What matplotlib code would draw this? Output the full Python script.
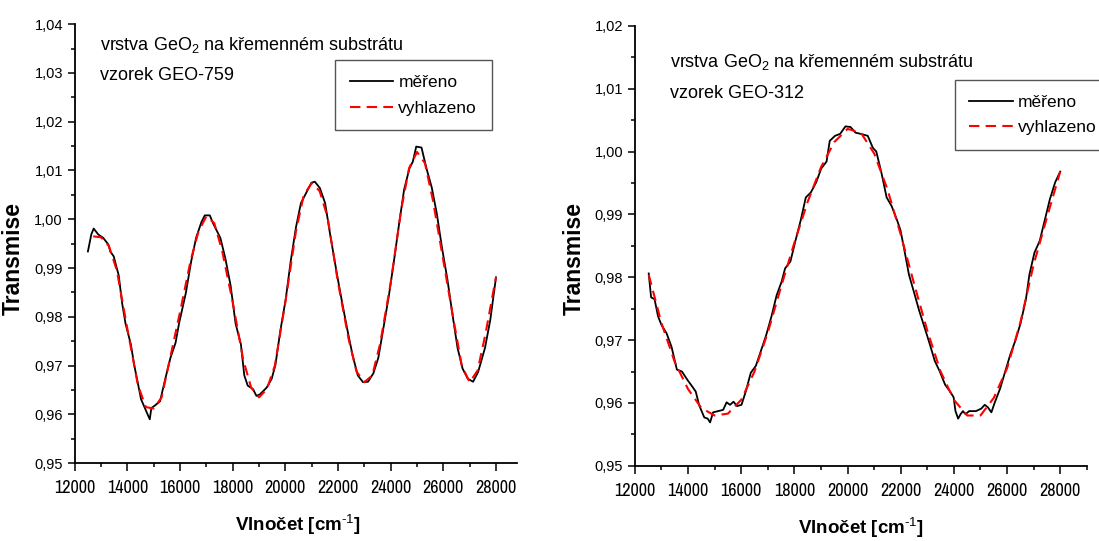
import matplotlib.pyplot as plt
from matplotlib.ticker import MultipleLocator, FuncFormatter
from matplotlib import font_manager

# vzorek GEO-759 (levy graf)
x_759 = [12500, 12630, 12720, 12890, 13080, 13280, 13350, 13480, 13670, 13800,
         13930, 14130, 14260, 14390, 14520, 14720, 14850, 14910, 15040, 15240,
         15440, 15630, 15830, 15960, 16220, 16420, 16610, 16810, 16940, 17130,
         17260, 17530, 17720, 17920, 18110, 18310, 18440, 18570, 18770, 18900,
         19030, 19160, 19290, 19480, 19620, 19810, 20010, 20200, 20400, 20590,
         20790, 20990, 21120, 21310, 21510, 21700, 21970, 22160, 22360, 22550,
         22750, 22950, 23140, 23340, 23530, 23730, 23930, 24120, 24320, 24510,
         24710, 24840, 24970, 25170, 25360, 25560, 25750, 25950, 26150, 26340,
         26540, 26730, 26930, 27130, 27320, 27580, 27780, 28000]
y_759 = [0.9934, 0.9969, 0.9981, 0.9969, 0.9962, 0.9948, 0.9934, 0.9924, 0.9885, 0.9828,
         0.9786, 0.9744, 0.9701, 0.9666, 0.9631, 0.9606, 0.9590, 0.9613, 0.9618, 0.9627,
         0.9673, 0.9715, 0.9747, 0.9786, 0.9849, 0.9913, 0.9962, 0.9994, 1.0008, 1.0008,
         0.9991, 0.9962, 0.9920, 0.9864, 0.9786, 0.9744, 0.9680, 0.9659, 0.9652, 0.9638,
         0.9641, 0.9648, 0.9655, 0.9673, 0.9701, 0.9772, 0.9835, 0.9913, 0.9983, 1.0033,
         1.0054, 1.0075, 1.0077, 1.0064, 1.0033, 0.9969, 0.9884, 0.9828, 0.9772, 0.9722,
         0.9680, 0.9666, 0.9667, 0.9684, 0.9716, 0.9779, 0.9843, 0.9913, 0.9991, 1.0061,
         1.0104, 1.0118, 1.0149, 1.0147, 1.0104, 1.0065, 1.0012, 0.9941, 0.9878, 0.9807,
         0.9736, 0.9694, 0.9673, 0.9667, 0.9687, 0.9736, 0.9793, 0.9881]
xs_759 = [12700, 13000, 13300, 13600, 14000, 14400, 14700, 15000, 15300, 15600,
          16000, 16400, 16700, 17000, 17300, 17600, 18000, 18400, 18700, 19000,
          19300, 19600, 20000, 20400, 20700, 21000, 21300, 21600, 22000, 22400,
          22700, 23000, 23300, 23600, 24000, 24400, 24700, 25000, 25300, 25600,
          26000, 26400, 26700, 27000, 27300, 27600, 28000]
ys_759 = [0.9965, 0.9963, 0.9945, 0.9895, 0.9775, 0.9660, 0.9615, 0.9612, 0.9635, 0.9710,
          0.9810, 0.9915, 0.9975, 1.0006, 0.9992, 0.9935, 0.9830, 0.9712, 0.9655, 0.9635,
          0.9652, 0.9700, 0.9830, 0.9975, 1.0050, 1.0074, 1.0058, 1.0005, 0.9870, 0.9755,
          0.9688, 0.9666, 0.9680, 0.9745, 0.9870, 1.0020, 1.0105, 1.0138, 1.0115, 1.0040,
          0.9915, 0.9790, 0.9700, 0.9666, 0.9690, 0.9765, 0.9882]

# vzorek GEO-312 (pravy graf)
x_312 = [12520, 12610, 12740, 12870, 13000, 13190, 13380, 13580, 13770, 13970,
         14160, 14290, 14420, 14610, 14740, 14830, 14940, 15130, 15320, 15450,
         15580, 15710, 15840, 16010, 16170, 16360, 16550, 16750, 16940, 17140,
         17330, 17520, 17650, 17850, 18040, 18240, 18430, 18620, 18820, 19010,
         19210, 19330, 19530, 19720, 19920, 20110, 20300, 20500, 20760, 20950,
         21080, 21270, 21470, 21660, 21860, 21990, 22120, 22310, 22500, 22700,
         22890, 23090, 23280, 23470, 23670, 23860, 23990, 24060, 24160, 24250,
         24340, 24440, 24570, 24830, 25030, 25160, 25280, 25410, 25540, 25740,
         25930, 26130, 26320, 26510, 26710, 26840, 27030, 27230, 27420, 27610,
         27810, 28000]
y_312 = [0.9806, 0.9768, 0.9765, 0.9738, 0.9724, 0.9711, 0.9689, 0.9653, 0.9650, 0.9637,
         0.9626, 0.9618, 0.9596, 0.9577, 0.9575, 0.9569, 0.9585, 0.9587, 0.9589, 0.9601,
         0.9597, 0.9602, 0.9595, 0.9597, 0.9618, 0.9648, 0.9659, 0.9684, 0.9708, 0.9738,
         0.9771, 0.9793, 0.9814, 0.9825, 0.9858, 0.9891, 0.9927, 0.9935, 0.9951, 0.9973,
         0.9984, 1.0017, 1.0025, 1.0028, 1.0040, 1.0039, 1.0030, 1.0028, 1.0025, 1.0006,
         1.0000, 0.9967, 0.9927, 0.9913, 0.9891, 0.9875, 0.9847, 0.9804, 0.9776, 0.9746,
         0.9721, 0.9694, 0.9667, 0.9650, 0.9629, 0.9618, 0.9609, 0.9587, 0.9575, 0.9582,
         0.9587, 0.9582, 0.9587, 0.9587, 0.9591, 0.9597, 0.9593, 0.9585, 0.9601, 0.9623,
         0.9650, 0.9678, 0.9700, 0.9727, 0.9765, 0.9804, 0.9839, 0.9858, 0.9891, 0.9924,
         0.9951, 0.9968]
xs_312 = [12520, 13000, 13500, 14000, 14500, 15000, 15500, 16000, 16500, 17000,
          17500, 18000, 18500, 19000, 19500, 20000, 20500, 21000, 21500, 22000,
          22500, 23000, 23500, 24000, 24500, 25000, 25500, 26000, 26500, 27000,
          27500, 28000]
ys_312 = [0.9804, 0.9727, 0.9665, 0.9622, 0.9592, 0.9580, 0.9583, 0.9605, 0.9650, 0.9712,
          0.9785, 0.9855, 0.9920, 0.9975, 1.0015, 1.0036, 1.0030, 0.9997, 0.9940, 0.9868,
          0.9790, 0.9715, 0.9650, 0.9605, 0.9580, 0.9580, 0.9608, 0.9655, 0.9728, 0.9820,
          0.9895, 0.9968]

plt.rcParams['font.family'] = 'Liberation Sans'
plt.rcParams['mathtext.fontset'] = 'custom'
plt.rcParams['mathtext.rm'] = 'Liberation Sans'
plt.rcParams['mathtext.bf'] = 'Liberation Sans:bold'

# uzky font pro popisky osy x, pokud je k dispozici
names = set(f.name for f in font_manager.fontManager.ttflist)
narrow = None
for cand in ['Liberation Sans Narrow', 'Arial Narrow', 'Archivo Narrow', 'PT Sans Narrow',
             'Roboto Condensed']:
    if cand in names:
        narrow = cand
        break

fig = plt.figure(figsize=(10.99, 5.41), dpi=100)
ax1 = fig.add_axes([0.068, 0.1438, 0.4025, 0.8116])
ax2 = fig.add_axes([0.5777, 0.139, 0.4112, 0.8133])

comma = FuncFormatter(lambda v, p: f"{v:.2f}".replace('.', ','))


def style(ax, ymax, xmax, ylab_x, ylab_y, xlab_x, xlab_y):
    ax.spines['top'].set_visible(False)
    ax.spines['right'].set_visible(False)
    ax.spines['left'].set_linewidth(1.3)
    ax.spines['bottom'].set_linewidth(1.3)
    ax.set_ylim(0.95, ymax)
    ax.set_xlim(12000, xmax)
    ax.xaxis.set_major_locator(MultipleLocator(2000))
    ax.xaxis.set_minor_locator(MultipleLocator(1000))
    ax.yaxis.set_major_locator(MultipleLocator(0.01))
    ax.yaxis.set_minor_locator(MultipleLocator(0.005))
    ax.yaxis.set_major_formatter(comma)
    ax.tick_params(axis='y', which='major', length=5, width=1.1, labelsize=10.5, pad=3.5)
    ax.tick_params(axis='x', which='major', length=5.8, width=1.1, labelsize=10.5, pad=6.5)
    ax.tick_params(which='minor', length=3, width=1.1)
    if narrow:
        for t in ax.get_xticklabels():
            t.set_family(narrow)
            t.set_fontsize(13)
    ax.set_xlabel('Vlnočet [cm$^{\\text{-}1}$]', fontsize=13.5, fontweight='bold', va='baseline')
    ax.xaxis.set_label_coords(xlab_x, xlab_y)
    ax.set_ylabel('Transmise', fontsize=16.5, fontweight='bold')
    ax.yaxis.set_label_coords(ylab_x, ylab_y)


leg_kw = dict(loc='upper left', fontsize=12.5, fancybox=False, edgecolor='#555555',
              framealpha=1, handlelength=2.5, handletextpad=0.3, borderpad=0.85,
              labelspacing=0.6, borderaxespad=0)

ax1.plot(x_759, y_759, color='black', lw=1.3, label='měřeno')
ax1.plot(xs_759, ys_759, color='red', lw=1.5, ls=(0, (5, 3)), label='vyhlazeno')
style(ax1, 1.04, 28800, -0.112, 0.467, 0.505, -0.154)
ax1.text(0.057, 0.941, 'vrstva GeO$_2$ na křemenném substrátu', transform=ax1.transAxes,
         fontsize=13, va='baseline')
ax1.text(0.057, 0.873, 'vzorek GEO-759', transform=ax1.transAxes, fontsize=13, va='baseline')
leg1 = ax1.legend(bbox_to_anchor=(0.5885, 0.918), **leg_kw)
leg1.get_frame().set_linewidth(1.0)

ax2.plot(x_312, y_312, color='black', lw=1.3, label='měřeno')
ax2.plot(xs_312, ys_312, color='red', lw=1.5, ls=(0, (5, 3)), label='vyhlazeno')
style(ax2, 1.02, 29000, -0.109, 0.471, 0.5, -0.156)
ax2.text(0.078, 0.906, 'vrstva GeO$_2$ na křemenném substrátu', transform=ax2.transAxes,
         fontsize=13, va='baseline')
ax2.text(0.078, 0.836, 'vzorek GEO-312', transform=ax2.transAxes, fontsize=13, va='baseline')
leg2 = ax2.legend(bbox_to_anchor=(0.7075, 0.877), **leg_kw)
leg2.get_frame().set_linewidth(1.0)

fig.savefig('out.png', dpi=100)
